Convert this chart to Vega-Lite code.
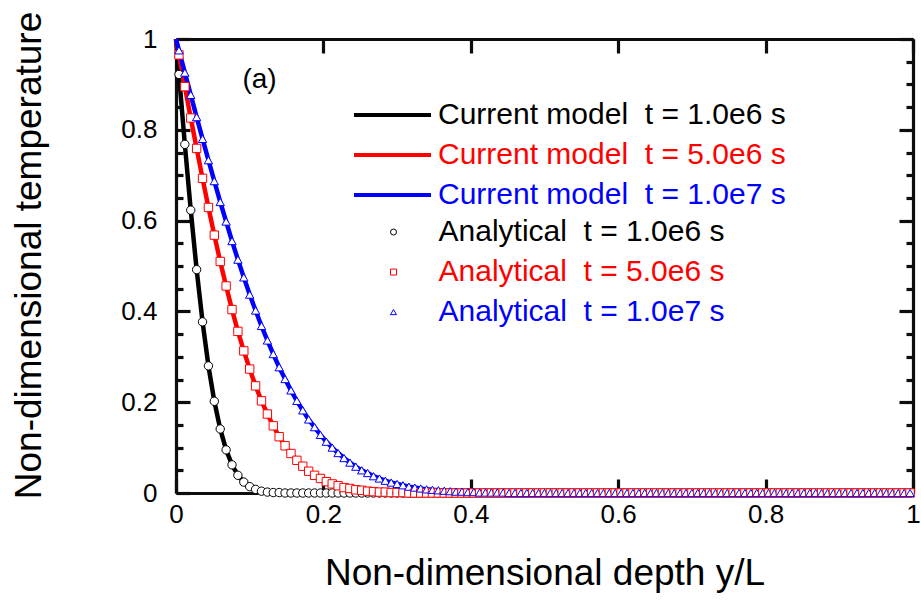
{
  "$schema": "https://vega.github.io/schema/vega-lite/v6.json",
  "width": 737,
  "height": 454,
  "autosize": {"type": "none"},
  "padding": {"left": 176, "top": 39, "right": 8, "bottom": 107},
  "background": "white",
  "config": {"view": {"stroke": null}},
  "datasets": {
    "names": [
      {"key": "a", "model": "Current model \u00a0t = 1.0e6 s", "anal": "Analytical \u00a0t = 1.0e6 s"},
      {"key": "b", "model": "Current model \u00a0t = 5.0e6 s", "anal": "Analytical \u00a0t = 5.0e6 s"},
      {"key": "c", "model": "Current model \u00a0t = 1.0e7 s", "anal": "Analytical \u00a0t = 1.0e7 s"}
    ],
    "profiles": [
      {"x": 0, "a": 1, "b": 1, "c": 1},
      {"x": 0.004, "a": 0.922, "b": 0.965, "c": 0.975},
      {"x": 0.012, "a": 0.768, "b": 0.895, "c": 0.926},
      {"x": 0.02, "a": 0.623, "b": 0.826, "c": 0.877},
      {"x": 0.028, "a": 0.492, "b": 0.759, "c": 0.828},
      {"x": 0.036, "a": 0.377, "b": 0.693, "c": 0.78},
      {"x": 0.044, "a": 0.28, "b": 0.629, "c": 0.733},
      {"x": 0.052, "a": 0.202, "b": 0.568, "c": 0.687},
      {"x": 0.06, "a": 0.141, "b": 0.51, "c": 0.641},
      {"x": 0.068, "a": 0.095, "b": 0.456, "c": 0.598},
      {"x": 0.076, "a": 0.062, "b": 0.404, "c": 0.555},
      {"x": 0.084, "a": 0.039, "b": 0.356, "c": 0.514},
      {"x": 0.092, "a": 0.024, "b": 0.313, "c": 0.475},
      {"x": 0.1, "a": 0.014, "b": 0.273, "c": 0.437},
      {"x": 0.108, "a": 0.008, "b": 0.236, "c": 0.402},
      {"x": 0.116, "a": 0.004, "b": 0.203, "c": 0.368},
      {"x": 0.124, "a": 0.002, "b": 0.174, "c": 0.336},
      {"x": 0.132, "a": 0.001, "b": 0.148, "c": 0.306},
      {"x": 0.14, "a": 0.001, "b": 0.124, "c": 0.277},
      {"x": 0.148, "a": 0, "b": 0.104, "c": 0.251},
      {"x": 0.156, "a": 0, "b": 0.087, "c": 0.226},
      {"x": 0.164, "a": 0, "b": 0.072, "c": 0.203},
      {"x": 0.172, "a": 0, "b": 0.059, "c": 0.182},
      {"x": 0.18, "a": 0, "b": 0.048, "c": 0.162},
      {"x": 0.188, "a": 0, "b": 0.039, "c": 0.145},
      {"x": 0.196, "a": 0, "b": 0.032, "c": 0.128},
      {"x": 0.204, "a": 0, "b": 0.025, "c": 0.113},
      {"x": 0.212, "a": 0, "b": 0.02, "c": 0.1},
      {"x": 0.22, "a": 0, "b": 0.016, "c": 0.088},
      {"x": 0.228, "a": 0, "b": 0.012, "c": 0.077},
      {"x": 0.236, "a": 0, "b": 0.01, "c": 0.067},
      {"x": 0.244, "a": 0, "b": 0.007, "c": 0.058},
      {"x": 0.252, "a": 0, "b": 0.006, "c": 0.05},
      {"x": 0.26, "a": 0, "b": 0.004, "c": 0.044},
      {"x": 0.268, "a": 0, "b": 0.003, "c": 0.037},
      {"x": 0.276, "a": 0, "b": 0.002, "c": 0.032},
      {"x": 0.284, "a": 0, "b": 0.002, "c": 0.027},
      {"x": 0.292, "a": 0, "b": 0.001, "c": 0.023},
      {"x": 0.3, "a": 0, "b": 0.001, "c": 0.02},
      {"x": 0.308, "a": 0, "b": 0.001, "c": 0.017},
      {"x": 0.316, "a": 0, "b": 0, "c": 0.014},
      {"x": 0.324, "a": 0, "b": 0, "c": 0.012},
      {"x": 0.332, "a": 0, "b": 0, "c": 0.01},
      {"x": 0.34, "a": 0, "b": 0, "c": 0.008},
      {"x": 0.348, "a": 0, "b": 0, "c": 0.007},
      {"x": 0.356, "a": 0, "b": 0, "c": 0.006},
      {"x": 0.364, "a": 0, "b": 0, "c": 0.005},
      {"x": 0.372, "a": 0, "b": 0, "c": 0.004},
      {"x": 0.38, "a": 0, "b": 0, "c": 0.003},
      {"x": 0.388, "a": 0, "b": 0, "c": 0.003},
      {"x": 0.396, "a": 0, "b": 0, "c": 0.002},
      {"x": 0.404, "a": 0, "b": 0, "c": 0.002},
      {"x": 0.412, "a": 0, "b": 0, "c": 0.001},
      {"x": 0.42, "a": 0, "b": 0, "c": 0.001},
      {"x": 0.428, "a": 0, "b": 0, "c": 0.001},
      {"x": 0.436, "a": 0, "b": 0, "c": 0.001},
      {"x": 0.444, "a": 0, "b": 0, "c": 0.001},
      {"x": 0.452, "a": 0, "b": 0, "c": 0},
      {"x": 0.46, "a": 0, "b": 0, "c": 0},
      {"x": 0.468, "a": 0, "b": 0, "c": 0},
      {"x": 0.476, "a": 0, "b": 0, "c": 0},
      {"x": 0.484, "a": 0, "b": 0, "c": 0},
      {"x": 0.492, "a": 0, "b": 0, "c": 0},
      {"x": 0.5, "a": 0, "b": 0, "c": 0},
      {"x": 0.508, "a": 0, "b": 0, "c": 0},
      {"x": 0.516, "a": 0, "b": 0, "c": 0},
      {"x": 0.524, "a": 0, "b": 0, "c": 0},
      {"x": 0.532, "a": 0, "b": 0, "c": 0},
      {"x": 0.54, "a": 0, "b": 0, "c": 0},
      {"x": 0.548, "a": 0, "b": 0, "c": 0},
      {"x": 0.556, "a": 0, "b": 0, "c": 0},
      {"x": 0.564, "a": 0, "b": 0, "c": 0},
      {"x": 0.572, "a": 0, "b": 0, "c": 0},
      {"x": 0.58, "a": 0, "b": 0, "c": 0},
      {"x": 0.588, "a": 0, "b": 0, "c": 0},
      {"x": 0.596, "a": 0, "b": 0, "c": 0},
      {"x": 0.604, "a": 0, "b": 0, "c": 0},
      {"x": 0.612, "a": 0, "b": 0, "c": 0},
      {"x": 0.62, "a": 0, "b": 0, "c": 0},
      {"x": 0.628, "a": 0, "b": 0, "c": 0},
      {"x": 0.636, "a": 0, "b": 0, "c": 0},
      {"x": 0.644, "a": 0, "b": 0, "c": 0},
      {"x": 0.652, "a": 0, "b": 0, "c": 0},
      {"x": 0.66, "a": 0, "b": 0, "c": 0},
      {"x": 0.668, "a": 0, "b": 0, "c": 0},
      {"x": 0.676, "a": 0, "b": 0, "c": 0},
      {"x": 0.684, "a": 0, "b": 0, "c": 0},
      {"x": 0.692, "a": 0, "b": 0, "c": 0},
      {"x": 0.7, "a": 0, "b": 0, "c": 0},
      {"x": 0.708, "a": 0, "b": 0, "c": 0},
      {"x": 0.716, "a": 0, "b": 0, "c": 0},
      {"x": 0.724, "a": 0, "b": 0, "c": 0},
      {"x": 0.732, "a": 0, "b": 0, "c": 0},
      {"x": 0.74, "a": 0, "b": 0, "c": 0},
      {"x": 0.748, "a": 0, "b": 0, "c": 0},
      {"x": 0.756, "a": 0, "b": 0, "c": 0},
      {"x": 0.764, "a": 0, "b": 0, "c": 0},
      {"x": 0.772, "a": 0, "b": 0, "c": 0},
      {"x": 0.78, "a": 0, "b": 0, "c": 0},
      {"x": 0.788, "a": 0, "b": 0, "c": 0},
      {"x": 0.796, "a": 0, "b": 0, "c": 0},
      {"x": 0.804, "a": 0, "b": 0, "c": 0},
      {"x": 0.812, "a": 0, "b": 0, "c": 0},
      {"x": 0.82, "a": 0, "b": 0, "c": 0},
      {"x": 0.828, "a": 0, "b": 0, "c": 0},
      {"x": 0.836, "a": 0, "b": 0, "c": 0},
      {"x": 0.844, "a": 0, "b": 0, "c": 0},
      {"x": 0.852, "a": 0, "b": 0, "c": 0},
      {"x": 0.86, "a": 0, "b": 0, "c": 0},
      {"x": 0.868, "a": 0, "b": 0, "c": 0},
      {"x": 0.876, "a": 0, "b": 0, "c": 0},
      {"x": 0.884, "a": 0, "b": 0, "c": 0},
      {"x": 0.892, "a": 0, "b": 0, "c": 0},
      {"x": 0.9, "a": 0, "b": 0, "c": 0},
      {"x": 0.908, "a": 0, "b": 0, "c": 0},
      {"x": 0.916, "a": 0, "b": 0, "c": 0},
      {"x": 0.924, "a": 0, "b": 0, "c": 0},
      {"x": 0.932, "a": 0, "b": 0, "c": 0},
      {"x": 0.94, "a": 0, "b": 0, "c": 0},
      {"x": 0.948, "a": 0, "b": 0, "c": 0},
      {"x": 0.956, "a": 0, "b": 0, "c": 0},
      {"x": 0.964, "a": 0, "b": 0, "c": 0},
      {"x": 0.972, "a": 0, "b": 0, "c": 0},
      {"x": 0.98, "a": 0, "b": 0, "c": 0},
      {"x": 0.988, "a": 0, "b": 0, "c": 0},
      {"x": 0.996, "a": 0, "b": 0, "c": 0}
    ]
  },
  "layer": [
    {
      "data": {"name": "profiles"},
      "transform": [
        {"fold": ["a", "b", "c"], "as": ["key", "T"]},
        {"lookup": "key", "from": {"data": {"name": "names"}, "key": "key", "fields": ["model", "anal"]}}
      ],
      "mark": {"type": "line", "strokeWidth": 4.5},
      "encoding": {
        "x": {
          "field": "x", "type": "quantitative",
          "scale": {"domain": [0, 1], "nice": false},
          "axis": {
            "orient": "bottom", "values": [0, 0.2, 0.4, 0.6, 0.8, 1], "format": "~g", "grid": false,
            "tickSize": -14, "tickWidth": 3.2, "tickColor": "#0d0d0d", "domainColor": "#0d0d0d", "domainWidth": 3.2,
            "labelPadding": 22, "labelFont": "Liberation Sans", "labelFontSize": 26, "labelColor": "#000000", "labelFlush": false,
            "title": "Non-dimensional depth y/L", "titleFont": "Liberation Sans", "titleFontSize": 37, "titleFontWeight": "normal", "titleColor": "#000000",
            "titleY": 91, "titleBaseline": "alphabetic"
          }
        },
        "y": {
          "field": "T", "type": "quantitative",
          "scale": {"domain": [0, 1], "nice": false},
          "axis": {
            "orient": "left", "grid": false,
            "values": [0, 0.05, 0.1, 0.15, 0.2, 0.25, 0.3, 0.35, 0.4, 0.45, 0.5, 0.55, 0.6, 0.65, 0.7, 0.75, 0.8, 0.85, 0.9, 0.95, 1],
            "format": "~g",
            "labelExpr": "(datum.value == 0 || datum.value == 0.2 || datum.value == 0.4 || datum.value == 0.6 || datum.value == 0.8 || datum.value == 1) ? datum.label : ''",
            "tickSize": {"condition": {"test": "datum.value == 0 || datum.value == 0.2 || datum.value == 0.4 || datum.value == 0.6 || datum.value == 0.8 || datum.value == 1", "value": -14}, "value": -7},
            "tickWidth": 3.2, "tickColor": "#0d0d0d", "domainColor": "#0d0d0d", "domainWidth": 3.2,
            "labelPadding": 33, "labelFont": "Liberation Sans", "labelFontSize": 26, "labelColor": "#000000",
            "title": "Non-dimensional temperature", "titleFont": "Liberation Sans", "titleFontSize": 37, "titleFontWeight": "normal", "titleColor": "#000000",
            "titleX": -136, "titleY": 216, "titleAngle": 270, "titleBaseline": "alphabetic", "titleAlign": "center"
          }
        },
        "stroke": {
          "field": "model", "type": "nominal",
          "scale": {
            "domain": ["Current model \u00a0t = 1.0e6 s", "Current model \u00a0t = 5.0e6 s", "Current model \u00a0t = 1.0e7 s"],
            "range": ["#000000", "#ff0000", "#0000ff"]
          },
          "legend": {
            "orient": "none", "legendX": 176, "legendY": 56.4, "direction": "vertical", "title": null,
            "symbolType": "stroke", "symbolSize": 5929, "symbolStrokeWidth": 4,
            "labelFont": "Liberation Sans", "labelFontSize": 30, "labelOffset": 5, "labelLimit": 600,
            "clipHeight": 39.3, "rowPadding": 0, "padding": 0,
            "labelColor": {"expr": "indexof('' + (datum && datum.value), '1.0e6') >= 0 ? '#000000' : indexof('' + (datum && datum.value), '5.0e6') >= 0 ? '#ff0000' : '#0000ff'"}
          }
        }
      }
    },
    {
      "data": {"name": "profiles"},
      "transform": [
        {"filter": "datum.x > 0"},
        {"fold": ["a", "b", "c"], "as": ["key", "T"]},
        {"lookup": "key", "from": {"data": {"name": "names"}, "key": "key", "fields": ["model", "anal"]}}
      ],
      "mark": {"type": "point", "filled": false, "fill": "#ffffff", "strokeWidth": 1, "opacity": 1, "size": 70},
      "encoding": {
        "x": {
          "field": "x", "type": "quantitative",
          "scale": {"domain": [0, 1], "nice": false},
          "axis": {"orient": "top", "values": [0, 0.2, 0.4, 0.6, 0.8, 1], "labels": false, "tickSize": -14, "tickWidth": 3.2, "tickColor": "#0d0d0d", "domainColor": "#0d0d0d", "domainWidth": 3.2, "grid": false, "title": null}
        },
        "y": {
          "field": "T", "type": "quantitative",
          "scale": {"domain": [0, 1], "nice": false},
          "axis": {
            "orient": "right",
            "values": [0, 0.05, 0.1, 0.15, 0.2, 0.25, 0.3, 0.35, 0.4, 0.45, 0.5, 0.55, 0.6, 0.65, 0.7, 0.75, 0.8, 0.85, 0.9, 0.95, 1],
            "labels": false, "grid": false,
            "tickSize": {"condition": {"test": "datum.value == 0 || datum.value == 0.2 || datum.value == 0.4 || datum.value == 0.6 || datum.value == 0.8 || datum.value == 1", "value": -14}, "value": -7},
            "tickWidth": 3.2, "tickColor": "#0d0d0d", "domainColor": "#0d0d0d", "domainWidth": 3.2,
            "title": null
          }
        },
        "color": {
          "field": "anal", "type": "nominal",
          "scale": {
            "domain": ["Analytical \u00a0t = 1.0e6 s", "Analytical \u00a0t = 5.0e6 s", "Analytical \u00a0t = 1.0e7 s"],
            "range": ["#000000", "#ff0000", "#0000ff"]
          },
          "legend": {
            "orient": "none", "legendX": 202.5, "legendY": 173.4, "direction": "vertical", "title": null,
            "symbolSize": 36, "symbolStrokeWidth": 1, "symbolFillColor": "#ffffff",
            "labelFont": "Liberation Sans", "labelFontSize": 30, "labelOffset": 30, "labelLimit": 600,
            "clipHeight": 39.3, "rowPadding": 0, "padding": 0,
            "labelColor": {"expr": "indexof('' + (datum && datum.value), '1.0e6') >= 0 ? '#000000' : indexof('' + (datum && datum.value), '5.0e6') >= 0 ? '#ff0000' : '#0000ff'"}
          }
        },
        "shape": {
          "field": "anal", "type": "nominal",
          "scale": {
            "domain": ["Analytical \u00a0t = 1.0e6 s", "Analytical \u00a0t = 5.0e6 s", "Analytical \u00a0t = 1.0e7 s"],
            "range": ["circle", "square", "triangle-up"]
          },
          "legend": {
            "orient": "none", "legendX": 202.5, "legendY": 173.4, "direction": "vertical", "title": null,
            "symbolSize": 36, "symbolStrokeWidth": 1, "symbolFillColor": "#ffffff",
            "labelFont": "Liberation Sans", "labelFontSize": 30, "labelOffset": 30, "labelLimit": 600,
            "clipHeight": 39.3, "rowPadding": 0, "padding": 0,
            "labelColor": {"expr": "indexof('' + (datum && datum.value), '1.0e6') >= 0 ? '#000000' : indexof('' + (datum && datum.value), '5.0e6') >= 0 ? '#ff0000' : '#0000ff'"}
          }
        }
      }
    },
    {
      "data": {"values": [{"label": "(a)"}]},
      "mark": {"type": "text", "font": "Liberation Sans", "fontSize": 28, "align": "center", "baseline": "middle", "color": "#000000"},
      "encoding": {
        "x": {"datum": 0.1133, "type": "quantitative", "axis": null},
        "y": {"datum": 0.91, "type": "quantitative", "axis": null},
        "text": {"field": "label"}
      }
    }
  ],
  "resolve": {"axis": {"x": "independent", "y": "independent"}}
}
